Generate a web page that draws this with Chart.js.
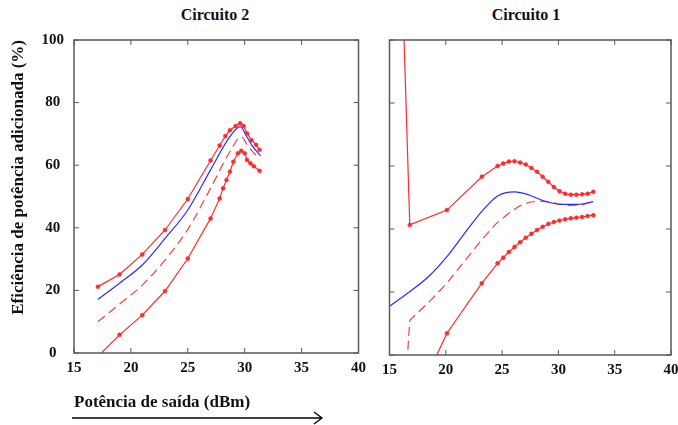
<!DOCTYPE html>
<html>
<head>
<meta charset="utf-8">
<script src="https://cdn.jsdelivr.net/npm/chart.js@4/dist/chart.umd.min.js"></script>
<style>
  html, body { margin: 0; padding: 0; background: #fff; overflow: hidden; width: 678px; height: 425px; }
  canvas { position: absolute; top: 0; }
  .ttl { position: absolute; top: 6px; font-family: "Liberation Serif", "Times New Roman", Times, "DejaVu Serif", serif; font-weight: bold; font-size: 16px; color: #111; transform: translateX(-50%); white-space: nowrap; }
</style>
</head>
<body>
<div class="ttl" style="left:215px">Circuito 2</div>
<div class="ttl" style="left:526px">Circuito 1</div>
<canvas id="c2" width="372" height="425" style="left:0"></canvas>
<canvas id="c1" width="310" height="425" style="left:376px"></canvas>
<script>
// axis ticks
const xTicks = [15, 20, 25, 30, 35, 40];
const yTicks = [0, 20, 40, 60, 80, 100];

// ---- Circuito 2 (left) ----
const c2UpperX = [17.1, 19, 21, 23, 25, 27, 27.8, 28.3, 28.7, 29.2, 29.6, 29.9, 30.2, 30.6, 31.0, 31.3];
const c2UpperY = [21.2, 25.1, 31.5, 39.3, 49.2, 61.5, 66.3, 69.3, 71.2, 72.5, 73.4, 72.5, 70.2, 68.0, 66.5, 64.9];
const c2BlueX = [17.1, 19, 21, 23, 25, 27, 28.7, 29.6, 30.2, 30.7, 31.4];
const c2BlueY = [17.1, 22.3, 28.1, 36.6, 45.7, 58.5, 69.1, 72.3, 69.0, 66.0, 63.0];
const c2DashX = [17.1, 19, 21, 23, 25, 27, 28.7, 29.7, 30.3, 31.3];
const c2DashY = [10.0, 15.6, 21.7, 29.7, 39.5, 52.6, 64.3, 69.1, 66.0, 62.0];
const c2LowerX = [17.1, 19, 21, 23, 25, 27, 27.8, 28.1, 28.4, 28.7, 29.0, 29.4, 29.7, 30.0, 30.2, 30.5, 30.8, 31.3];
const c2LowerY = [-1.1, 5.8, 12.1, 19.8, 30.2, 43.0, 49.4, 52.6, 55.3, 57.9, 61.1, 63.8, 64.6, 63.8, 61.7, 60.6, 59.7, 58.2];

// ---- Circuito 1 (right) ----
const c1UpperX = [16.25, 16.8, 20.1, 23.2, 24.6, 25.1, 25.6, 26.1, 26.6, 27.1, 27.6, 28.1, 28.6, 29.1, 29.6, 30.1, 30.6, 31.1, 31.6, 32.1, 32.6, 33.1];
const c1UpperY = [105, 41.3, 46.0, 56.6, 60.0, 60.8, 61.4, 61.5, 61.1, 60.5, 59.4, 58.2, 56.6, 55.0, 53.3, 52.0, 51.2, 50.9, 50.9, 51.0, 51.2, 51.8];
const c1BlueX = [15, 16.6, 18.5, 20.1, 22.1, 23.3, 24.6, 26.1, 27.4, 28.5, 30.3, 31.7, 33.1];
const c1BlueY = [15.5, 19.6, 25.0, 31.2, 40.7, 46.0, 50.5, 51.8, 50.8, 49.2, 47.8, 47.8, 48.7];
const c1DashX = [16.55, 16.8, 18.5, 20.1, 21.7, 23.3, 24.5, 25.6, 26.5, 27.4, 28.3, 29.1, 30.0, 30.9, 32.0, 33.1];
const c1DashY = [-2.8, 11.0, 16.8, 22.8, 30.0, 37.0, 41.8, 45.0, 47.2, 48.5, 48.9, 48.6, 48.0, 47.5, 47.6, 48.7];
const c1LowerX = [19.0, 20.1, 23.2, 24.6, 25.1, 25.6, 26.1, 26.6, 27.1, 27.6, 28.1, 28.6, 29.1, 29.6, 30.1, 30.6, 31.1, 31.6, 32.1, 32.6, 33.1];
const c1LowerY = [-1.5, 6.9, 22.8, 29.1, 30.9, 32.7, 34.3, 35.8, 37.2, 38.5, 39.7, 40.7, 41.6, 42.2, 42.7, 43.1, 43.4, 43.6, 43.8, 44.1, 44.4];

function pts(xs, ys) {
  return xs.map((x, i) => ({ x: x, y: ys[i] }));
}

const RED = '#ff2a2a';
const BLUE = '#2b2bff';
const SERIF = '"Liberation Serif", "Times New Roman", Times, "DejaVu Serif", serif';
const FONT = { family: SERIF, weight: 'bold', size: 15 };

function markedLine(xs, ys) {
  return {
    data: pts(xs, ys), borderColor: RED, borderWidth: 1.2, tension: 0,
    pointRadius: 2, pointBackgroundColor: RED, pointBorderColor: RED, pointBorderWidth: 0.5, clip: 0
  };
}
function smoothLine(xs, ys, color, dash, mode) {
  const ds = {
    data: pts(xs, ys), borderColor: color, borderWidth: 1.2,
    borderDash: dash, pointRadius: 0, clip: 0
  };
  if (mode) ds.cubicInterpolationMode = mode; else ds.tension = 0;
  return ds;
}

// inward ticks + box
const frame = {
  id: 'frame',
  afterDraw(chart) {
    const { ctx, chartArea: a, scales: { x, y } } = chart;
    ctx.save();
    ctx.strokeStyle = '#5a5a5a';
    ctx.lineWidth = 1;
    ctx.beginPath();
    x.ticks.forEach(t => {
      const px = x.getPixelForValue(t.value);
      ctx.moveTo(px, a.bottom); ctx.lineTo(px, a.bottom - 5);
      ctx.moveTo(px, a.top); ctx.lineTo(px, a.top + 5);
    });
    y.ticks.forEach(t => {
      const py = y.getPixelForValue(t.value);
      ctx.moveTo(a.left, py); ctx.lineTo(a.left + 5, py);
      ctx.moveTo(a.right, py); ctx.lineTo(a.right - 5, py);
    });
    ctx.stroke();
    ctx.lineWidth = 1.5;
    ctx.strokeRect(a.left, a.top, a.width, a.height);
    ctx.restore();
  }
};

// arrow under the x title
const arrow = {
  id: 'arrow',
  afterDraw(chart) {
    const ctx = chart.ctx;
    const x0 = chart.scales.x.left - 2, x1 = 322, yy = 418;
    ctx.save();
    ctx.strokeStyle = '#000';
    ctx.lineWidth = 1.3;
    ctx.beginPath();
    ctx.moveTo(x0, yy); ctx.lineTo(x1, yy);
    ctx.moveTo(x1 - 8, yy - 6); ctx.lineTo(x1, yy); ctx.lineTo(x1 - 8, yy + 6);
    ctx.stroke();
    ctx.restore();
  }
};

function makeOptions(left) {
  return {
    responsive: false,
    animation: false,
    layout: { padding: { top: 40, right: left ? 13 : 15, bottom: 0, left: 0 } },
    plugins: { legend: { display: false }, tooltip: { enabled: false } },
    scales: {
      x: {
        type: 'linear', min: 15, max: 40,
        afterBuildTicks: s => { s.ticks = xTicks.map(v => ({ value: v })); },
        afterFit: s => { s.height = left ? 72 : 70; },
        grid: { display: false, drawTicks: false },
        border: { display: false },
        ticks: { font: FONT, color: '#111', padding: 6, maxRotation: 0 },
        title: left ? {
          display: true, text: 'Potência de saída (dBm)', align: 'start',
          font: { family: SERIF, weight: 'bold', size: 17 },
          color: '#111', padding: { top: 12, bottom: 12 }
        } : { display: false }
      },
      y: {
        type: 'linear', min: 0, max: 100,
        afterBuildTicks: s => { s.ticks = yTicks.map(v => ({ value: v })); },
        afterFit: s => { s.width = left ? 74 : 9; },
        grid: { display: false, drawTicks: false },
        border: { display: false },
        ticks: { display: left, font: FONT, color: '#111', padding: 10, crossAlign: 'center' },
        title: left ? {
          display: true, text: 'Eficiência de potência adicionada (%)', align: 'end',
          font: { family: SERIF, weight: 'bold', size: 17 },
          color: '#111', padding: { top: 8, bottom: 8 }
        } : { display: false }
      }
    }
  };
}

new Chart(document.getElementById('c2').getContext('2d'), {
  type: 'line',
  data: {
    datasets: [
      markedLine(c2UpperX, c2UpperY),
      smoothLine(c2BlueX, c2BlueY, BLUE, [], 'monotone'),
      smoothLine(c2DashX, c2DashY, '#e8453f', [9, 5], 'monotone'),
      markedLine(c2LowerX, c2LowerY)
    ]
  },
  options: makeOptions(true),
  plugins: [frame, arrow]
});

new Chart(document.getElementById('c1').getContext('2d'), {
  type: 'line',
  data: {
    datasets: [
      markedLine(c1UpperX, c1UpperY),
      smoothLine(c1BlueX, c1BlueY, BLUE, [], 'monotone'),
      smoothLine(c1DashX, c1DashY, '#e8453f', [9, 5], null),
      markedLine(c1LowerX, c1LowerY)
    ]
  },
  options: makeOptions(false),
  plugins: [frame]
});
</script>
</body>
</html>
